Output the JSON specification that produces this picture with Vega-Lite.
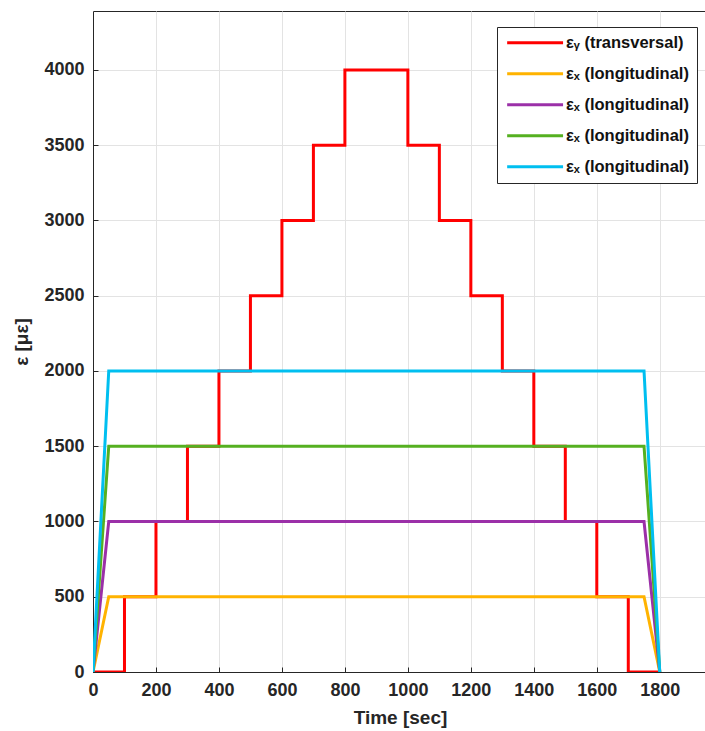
{
  "$schema": "https://vega.github.io/schema/vega-lite/v6.json",
  "autosize": "none",
  "width": 614,
  "height": 661,
  "padding": {"left": 93, "top": 11, "right": 0, "bottom": 59},
  "background": "white",
  "config": {
    "view": {"stroke": "#262626", "strokeWidth": 1},
    "font": "Liberation Sans"
  },
  "data": {
    "values": [
      {"s": "s1", "i": 0, "t": 0, "v": 0},
      {"s": "s1", "i": 1, "t": 100, "v": 0},
      {"s": "s1", "i": 2, "t": 100, "v": 500},
      {"s": "s1", "i": 3, "t": 200, "v": 500},
      {"s": "s1", "i": 4, "t": 200, "v": 1000},
      {"s": "s1", "i": 5, "t": 300, "v": 1000},
      {"s": "s1", "i": 6, "t": 300, "v": 1500},
      {"s": "s1", "i": 7, "t": 400, "v": 1500},
      {"s": "s1", "i": 8, "t": 400, "v": 2000},
      {"s": "s1", "i": 9, "t": 500, "v": 2000},
      {"s": "s1", "i": 10, "t": 500, "v": 2500},
      {"s": "s1", "i": 11, "t": 600, "v": 2500},
      {"s": "s1", "i": 12, "t": 600, "v": 3000},
      {"s": "s1", "i": 13, "t": 700, "v": 3000},
      {"s": "s1", "i": 14, "t": 700, "v": 3500},
      {"s": "s1", "i": 15, "t": 800, "v": 3500},
      {"s": "s1", "i": 16, "t": 800, "v": 4000},
      {"s": "s1", "i": 17, "t": 1000, "v": 4000},
      {"s": "s1", "i": 18, "t": 1000, "v": 3500},
      {"s": "s1", "i": 19, "t": 1100, "v": 3500},
      {"s": "s1", "i": 20, "t": 1100, "v": 3000},
      {"s": "s1", "i": 21, "t": 1200, "v": 3000},
      {"s": "s1", "i": 22, "t": 1200, "v": 2500},
      {"s": "s1", "i": 23, "t": 1300, "v": 2500},
      {"s": "s1", "i": 24, "t": 1300, "v": 2000},
      {"s": "s1", "i": 25, "t": 1400, "v": 2000},
      {"s": "s1", "i": 26, "t": 1400, "v": 1500},
      {"s": "s1", "i": 27, "t": 1500, "v": 1500},
      {"s": "s1", "i": 28, "t": 1500, "v": 1000},
      {"s": "s1", "i": 29, "t": 1600, "v": 1000},
      {"s": "s1", "i": 30, "t": 1600, "v": 500},
      {"s": "s1", "i": 31, "t": 1700, "v": 500},
      {"s": "s1", "i": 32, "t": 1700, "v": 0},
      {"s": "s1", "i": 33, "t": 1800, "v": 0},
      {"s": "s2", "i": 0, "t": 0, "v": 0},
      {"s": "s2", "i": 1, "t": 50, "v": 500},
      {"s": "s2", "i": 2, "t": 1750, "v": 500},
      {"s": "s2", "i": 3, "t": 1800, "v": 0},
      {"s": "s3", "i": 0, "t": 0, "v": 0},
      {"s": "s3", "i": 1, "t": 50, "v": 1000},
      {"s": "s3", "i": 2, "t": 1750, "v": 1000},
      {"s": "s3", "i": 3, "t": 1800, "v": 0},
      {"s": "s4", "i": 0, "t": 0, "v": 0},
      {"s": "s4", "i": 1, "t": 50, "v": 1500},
      {"s": "s4", "i": 2, "t": 1750, "v": 1500},
      {"s": "s4", "i": 3, "t": 1800, "v": 0},
      {"s": "s5", "i": 0, "t": 0, "v": 0},
      {"s": "s5", "i": 1, "t": 50, "v": 2000},
      {"s": "s5", "i": 2, "t": 1750, "v": 2000},
      {"s": "s5", "i": 3, "t": 1800, "v": 0}
    ]
  },
  "encoding": {
    "x": {
      "field": "t", "type": "quantitative",
      "scale": {"domain": [0, 1950], "nice": false, "zero": false},
      "axis": {
        "title": "Time [sec]", "values": [0, 200, 400, 600, 800, 1000, 1200, 1400, 1600, 1800], "format": "d",
        "grid": true, "gridColor": "#e3e3e3", "gridWidth": 1, "labelFlush": false,
        "domainColor": "#262626", "tickColor": "#262626", "tickSize": -5,
        "labelFontSize": 18, "labelFontWeight": "bold", "labelColor": "#262626", "labelPadding": 14,
        "titleFontSize": 19, "titleFontWeight": "bold", "titleColor": "#262626", "titlePadding": 9
      }
    },
    "y": {
      "field": "v", "type": "quantitative",
      "scale": {"domain": [0, 4392], "nice": false},
      "axis": {
        "title": "ε [με]", "values": [0, 500, 1000, 1500, 2000, 2500, 3000, 3500, 4000], "format": "d",
        "grid": true, "gridColor": "#e3e3e3", "gridWidth": 1, "labelFlush": false,
        "domainColor": "#262626", "tickColor": "#262626", "tickSize": -5,
        "labelFontSize": 18, "labelFontWeight": "bold", "labelColor": "#262626", "labelPadding": 14,
        "titleFontSize": 19, "titleFontWeight": "bold", "titleColor": "#262626", "titlePadding": 12
      }
    },
    "color": {
      "field": "s", "type": "nominal",
      "scale": {"domain": ["s1", "s2", "s3", "s4", "s5"], "range": ["#ff0000", "#ffb300", "#9b30a8", "#55b020", "#00bff0"]},
      "legend": {
        "title": null, "orient": "none", "legendX": 404, "legendY": 16,
        "labelExpr": "datum.value == 's1' ? 'εᵧ (transversal)' : 'εₓ (longitudinal)'",
        "symbolType": "M-1,0H9", "symbolSize": 125, "symbolStrokeWidth": 3,
        "labelFontSize": 16.5, "labelFontWeight": "bold", "labelColor": "#111111", "labelOffset": 45,
        "strokeColor": "#262626", "fillColor": "white", "padding": 7.5, "rowPadding": 14
      }
    },
    "order": {"field": "i", "type": "quantitative"}
  },
  "layer": [
    {"transform": [{"filter": "datum.s == 's1'"}], "mark": {"type": "line", "strokeWidth": 3, "clip": true}},
    {"transform": [{"filter": "datum.s != 's1'"}], "mark": {"type": "line", "strokeWidth": 3, "clip": true}}
  ]
}
